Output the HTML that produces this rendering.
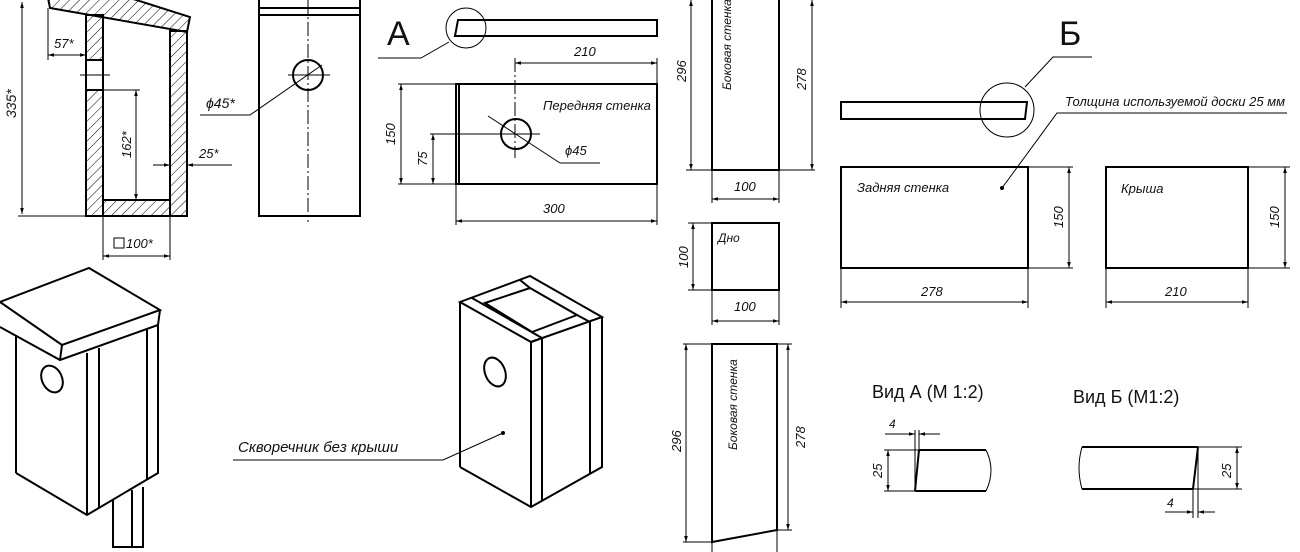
<!DOCTYPE html>
<html><head><meta charset="utf-8"><style>
html,body{margin:0;padding:0;background:#fff;overflow:hidden;}
svg{display:block;}
text{font-family:"Liberation Sans","DejaVu Sans",sans-serif;font-style:italic;fill:#111;}
.o{fill:none;stroke:#000;stroke-width:2;}
.d{fill:none;stroke:#000;stroke-width:1;}
.da{fill:none;stroke:#000;stroke-width:1;marker-start:url(#a);marker-end:url(#a);}
.h{fill:url(#hatch);stroke:#000;stroke-width:2;}
</style></head><body>
<svg width="1300" height="552" viewBox="0 0 1300 552" xmlns="http://www.w3.org/2000/svg">
<defs>
<marker id="a" viewBox="0 0 10 10" refX="10" refY="5" markerWidth="10" markerHeight="6" orient="auto-start-reverse" markerUnits="userSpaceOnUse"><path d="M0,2 L10,5 L0,8 z" fill="#000"/></marker>
<pattern id="hatch" width="7" height="7" patternUnits="userSpaceOnUse" patternTransform="rotate(45)"><line x1="0" y1="0" x2="0" y2="7" stroke="#000" stroke-width="1"/></pattern>
</defs>

<!-- Section view -->
<polygon class="h" points="48,-2 50,8 187,32 190,17 130,-2"/>
<rect class="h" x="86" y="15" width="17" height="45"/>
<rect class="h" x="86" y="90" width="17" height="126"/>
<line class="o" x1="86" y1="60" x2="86" y2="90"/>
<line class="o" x1="103" y1="60" x2="103" y2="90"/>
<line class="d" x1="80" y1="75" x2="110" y2="75"/>
<rect class="h" x="170" y="31" width="17" height="185"/>
<rect class="h" x="103" y="200" width="67" height="16"/>
<line class="da" x1="22" y1="2" x2="22" y2="214"/>
<line class="d" x1="18" y1="216" x2="86" y2="216"/>
<text transform="translate(16,118) rotate(-90)" font-size="14">335*</text>
<line class="d" x1="48" y1="8" x2="48" y2="60"/>
<line class="da" x1="48" y1="55" x2="86" y2="55"/>
<text x="54" y="48" font-size="13">57*</text>
<line class="d" x1="103" y1="90" x2="140" y2="90"/>
<line class="da" x1="136" y1="90" x2="136" y2="200"/>
<text transform="translate(131,158) rotate(-90)" font-size="13">162*</text>
<line class="da" x1="153" y1="165" x2="170" y2="165" style="marker-start:none"/>
<line class="da" x1="232" y1="165" x2="187" y2="165" style="marker-start:none"/>
<text x="199" y="158" font-size="13">25*</text>
<line class="d" x1="103" y1="216" x2="103" y2="260"/>
<line class="d" x1="170" y1="216" x2="170" y2="260"/>
<line class="da" x1="103" y1="256" x2="170" y2="256"/>
<rect x="114" y="238" width="10" height="10" fill="none" stroke="#000" stroke-width="1"/>
<text x="126" y="248" font-size="13">100*</text>

<!-- Side view -->
<rect class="o" x="259" y="-2" width="101" height="218"/>
<line class="o" x1="259" y1="8" x2="360" y2="8"/>
<line class="o" x1="259" y1="15" x2="360" y2="15"/>
<line class="d" x1="308" y1="0" x2="308" y2="222" stroke-dasharray="14,3,2,3"/>
<circle class="o" cx="308" cy="75" r="15"/>
<line class="d" x1="288" y1="75" x2="330" y2="75"/>
<polyline class="d" points="322,65 250,115 200,115"/>
<text x="206" y="108" font-size="14">ϕ45*</text>

<!-- A -->
<text x="387" y="45" font-size="34" style="font-style:normal">A</text>
<polygon class="o" points="458,20 657,20 657,36 455,36"/>
<circle class="d" cx="466" cy="28" r="20"/>
<polyline class="d" points="449,42 421,58 378,58"/>
<line class="d" x1="515" y1="58" x2="515" y2="158" stroke-dasharray="14,3,2,3"/>
<line class="d" x1="657" y1="58" x2="657" y2="84"/>
<line class="da" x1="515" y1="63" x2="657" y2="63"/>
<text x="574" y="56" font-size="13">210</text>
<rect class="o" x="456" y="84" width="201" height="100"/>
<line class="o" x1="459" y1="84" x2="459" y2="184"/>
<text x="543" y="110" font-size="13">Передняя стенка</text>
<circle class="o" cx="516" cy="134" r="15"/>
<line class="d" x1="430" y1="134" x2="540" y2="134"/>
<line class="d" x1="488" y1="116" x2="560" y2="163"/>
<line class="d" x1="560" y1="163" x2="600" y2="163"/>
<text x="565" y="155" font-size="13">ϕ45</text>
<line class="d" x1="398" y1="84" x2="456" y2="84"/>
<line class="d" x1="398" y1="184" x2="456" y2="184"/>
<line class="da" x1="401" y1="84" x2="401" y2="184"/>
<text transform="translate(395,145) rotate(-90)" font-size="13">150</text>
<line class="da" x1="433" y1="134" x2="433" y2="184"/>
<text transform="translate(427,166) rotate(-90)" font-size="13">75</text>
<line class="d" x1="456" y1="184" x2="456" y2="225"/>
<line class="d" x1="657" y1="184" x2="657" y2="225"/>
<line class="da" x1="456" y1="221" x2="657" y2="221"/>
<text x="543" y="213" font-size="13">300</text>

<!-- Side wall top -->
<rect class="o" x="712" y="-2" width="67" height="172"/>
<line class="d" x1="686" y1="170" x2="815" y2="170"/>
<line class="da" x1="691" y1="0" x2="691" y2="170"/>
<line class="da" x1="812" y1="0" x2="812" y2="170"/>
<text transform="translate(686,82) rotate(-90)" font-size="13">296</text>
<text transform="translate(806,90) rotate(-90)" font-size="13">278</text>
<text transform="translate(731,90) rotate(-90)" font-size="12">Боковая стенка</text>
<line class="d" x1="712" y1="170" x2="712" y2="203"/>
<line class="d" x1="779" y1="170" x2="779" y2="203"/>
<line class="da" x1="712" y1="199" x2="779" y2="199"/>
<text x="734" y="191" font-size="13">100</text>

<!-- Дно -->
<rect class="o" x="712" y="223" width="67" height="67"/>
<text x="718" y="242" font-size="12">Дно</text>
<line class="d" x1="688" y1="223" x2="712" y2="223"/>
<line class="d" x1="688" y1="290" x2="712" y2="290"/>
<line class="da" x1="693" y1="223" x2="693" y2="290"/>
<text transform="translate(688,268) rotate(-90)" font-size="13">100</text>
<line class="d" x1="712" y1="290" x2="712" y2="325"/>
<line class="d" x1="779" y1="290" x2="779" y2="325"/>
<line class="da" x1="712" y1="321" x2="779" y2="321"/>
<text x="734" y="311" font-size="13">100</text>

<!-- Side wall bottom -->
<polygon class="o" points="712,344 777,344 777,530 712,542"/>
<line class="d" x1="683" y1="344" x2="792" y2="344"/>
<line class="d" x1="683" y1="542" x2="712" y2="542"/>
<line class="d" x1="777" y1="530" x2="792" y2="530"/>
<line class="d" x1="712" y1="542" x2="712" y2="552"/>
<line class="d" x1="777" y1="530" x2="777" y2="552"/>
<line class="da" x1="686" y1="344" x2="686" y2="542"/>
<line class="da" x1="788" y1="344" x2="788" y2="530"/>
<text transform="translate(681,452) rotate(-90)" font-size="13">296</text>
<text transform="translate(805,448) rotate(-90)" font-size="13">278</text>
<text transform="translate(737,450) rotate(-90)" font-size="12">Боковая стенка</text>

<!-- Вид А -->
<text x="872" y="398" font-size="18" style="font-style:normal">Вид А (М 1:2)</text>
<path class="o" d="M919,450 L986,450 M915,491 L986,491 M919,450 L915,491"/>
<path class="d" d="M986,450 Q996,470 986,491"/>
<line class="d" x1="915" y1="491" x2="915" y2="430"/>
<line class="d" x1="919" y1="450" x2="919" y2="430"/>
<line class="da" x1="885" y1="434" x2="915" y2="434" style="marker-start:none"/>
<line class="da" x1="940" y1="434" x2="919" y2="434" style="marker-start:none"/>
<text x="889" y="428" font-size="12">4</text>
<line class="d" x1="884" y1="450" x2="919" y2="450"/>
<line class="d" x1="884" y1="491" x2="915" y2="491"/>
<line class="da" x1="888" y1="450" x2="888" y2="491"/>
<text transform="translate(882,478) rotate(-90)" font-size="13">25</text>

<!-- Вид Б -->
<text x="1073" y="403" font-size="18" style="font-style:normal">Вид Б (М1:2)</text>
<path class="o" d="M1082,447 L1198,447 M1082,489 L1193,489 M1198,447 L1193,489"/>
<path class="d" d="M1082,447 Q1076,468 1082,489"/>
<line class="d" x1="1198" y1="447" x2="1242" y2="447"/>
<line class="d" x1="1193" y1="489" x2="1242" y2="489"/>
<line class="da" x1="1237" y1="447" x2="1237" y2="489"/>
<text transform="translate(1231,478) rotate(-90)" font-size="13">25</text>
<line class="d" x1="1193" y1="489" x2="1193" y2="518"/>
<line class="d" x1="1198" y1="447" x2="1198" y2="518"/>
<line class="da" x1="1165" y1="512" x2="1193" y2="512" style="marker-start:none"/>
<line class="da" x1="1215" y1="512" x2="1198" y2="512" style="marker-start:none"/>
<text x="1167" y="507" font-size="12">4</text>

<!-- Б -->
<text x="1059" y="45" font-size="34" style="font-style:normal">Б</text>
<polygon class="o" points="841,102 1027,102 1025,119 841,119"/>
<circle class="d" cx="1007" cy="110" r="27"/>
<polyline class="d" points="1025,87 1053,57 1092,57"/>
<text x="1065" y="106" font-size="13">Толщина используемой доски 25 мм</text>
<polyline class="d" points="1287,113 1057,113 1002,188"/>
<circle cx="1002" cy="188" r="2" fill="#000"/>
<rect class="o" x="841" y="167" width="187" height="101"/>
<text x="857" y="192" font-size="13">Задняя  стенка</text>
<line class="d" x1="1028" y1="167" x2="1073" y2="167"/>
<line class="d" x1="1028" y1="268" x2="1073" y2="268"/>
<line class="da" x1="1069" y1="167" x2="1069" y2="268"/>
<text transform="translate(1063,228) rotate(-90)" font-size="13">150</text>
<line class="d" x1="841" y1="268" x2="841" y2="308"/>
<line class="d" x1="1028" y1="268" x2="1028" y2="308"/>
<line class="da" x1="841" y1="302" x2="1028" y2="302"/>
<text x="921" y="296" font-size="13">278</text>
<rect class="o" x="1106" y="167" width="142" height="101"/>
<text x="1121" y="193" font-size="13">Крыша</text>
<line class="d" x1="1248" y1="167" x2="1290" y2="167"/>
<line class="d" x1="1248" y1="268" x2="1290" y2="268"/>
<line class="da" x1="1285" y1="167" x2="1285" y2="268"/>
<text transform="translate(1279,228) rotate(-90)" font-size="13">150</text>
<line class="d" x1="1106" y1="268" x2="1106" y2="308"/>
<line class="d" x1="1248" y1="268" x2="1248" y2="308"/>
<line class="da" x1="1106" y1="302" x2="1248" y2="302"/>
<text x="1165" y="296" font-size="13">210</text>

<!-- Birdhouse with roof -->
<polygon class="o" points="0,302 89,268 160,310 62,345"/>
<polyline class="o" points="0,327 60,360 158,325 160,310"/>
<line class="o" x1="62" y1="345" x2="60" y2="360"/>
<line class="o" x1="16" y1="335" x2="16" y2="473"/>
<polyline class="o" points="16,473 87,515 158,473 158,325"/>
<line class="o" x1="87" y1="353" x2="87" y2="515"/>
<line class="o" x1="99" y1="348" x2="99" y2="508"/>
<line class="o" x1="147" y1="330" x2="147" y2="479"/>
<ellipse class="o" cx="52" cy="379" rx="10" ry="14" transform="rotate(-25 52 379)"/>
<polyline class="o" points="113,500 113,547 143,547 143,487"/>
<line class="o" x1="132" y1="490" x2="132" y2="547"/>

<!-- Birdhouse without roof -->
<polygon class="o" points="460,302 530,276 602,317 531,342"/>
<line class="o" x1="472" y1="298" x2="542" y2="338"/>
<line class="o" x1="531" y1="342" x2="542" y2="338"/>
<polygon class="o" points="485,303 530,288 577,315 532,332"/>
<line class="o" x1="520" y1="280" x2="530" y2="288"/>
<line class="o" x1="577" y1="315" x2="590" y2="322"/>
<line class="o" x1="460" y1="302" x2="460" y2="467"/>
<polyline class="o" points="460,467 531,507 602,467 602,317"/>
<line class="o" x1="531" y1="342" x2="531" y2="507"/>
<line class="o" x1="542" y1="338" x2="542" y2="501"/>
<line class="o" x1="590" y1="322" x2="590" y2="473"/>
<ellipse class="o" cx="495" cy="372" rx="10" ry="15" transform="rotate(-22 495 372)"/>
<text x="238" y="452" font-size="15">Скворечник без крыши</text>
<polyline class="d" points="233,460 443,460 503,433"/>
<circle cx="503" cy="433" r="2" fill="#000"/>
</svg>
</body></html>
